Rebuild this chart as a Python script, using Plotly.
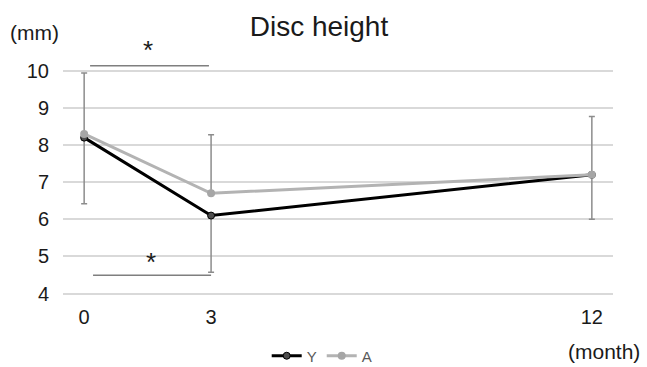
import plotly.graph_objects as go

# Data
months = [0, 3, 12]
tick_labels = ["0", "3", "12"]
y_mean = [8.2, 6.1, 7.2]
a_mean = [8.3, 6.7, 7.2]
y_err_minus = [1.78, 1.53, 1.2]
a_err_plus = [1.64, 1.58, 1.57]
y_ticks = [4, 5, 6, 7, 8, 9, 10]

# significance brackets: (x0, x1, y, star_x, star_y)
sig_brackets = [
    (0.14, 2.95, 10.14, 1.5, 10.56),
    (0.21, 3.0, 4.49, 1.57, 4.84),
]

FONT = "Liberation Sans, Arial, sans-serif"
TXT = "#1a1a1a"

fig = go.Figure()
fig.add_trace(go.Scatter(
    x=months, y=y_mean, name="Y", mode="lines+markers",
    line=dict(color="#000000", width=3),
    marker=dict(size=7, color="#4d4d4d", line=dict(color="#000000", width=1)),
    error_y=dict(type="data", symmetric=False, array=[0, 0, 0], arrayminus=y_err_minus,
                 color="#8c8c8c", thickness=1.5, width=3),
))
fig.add_trace(go.Scatter(
    x=months, y=a_mean, name="A", mode="lines+markers",
    line=dict(color="#b3b3b3", width=3),
    marker=dict(size=8, color="#a6a6a6"),
    error_y=dict(type="data", symmetric=False, array=a_err_plus, arrayminus=[0, 0, 0],
                 color="#8c8c8c", thickness=1.5, width=3),
))

for x0, x1, yv, sx, sy in sig_brackets:
    fig.add_shape(type="line", xref="x", yref="y", x0=x0, x1=x1, y0=yv, y1=yv,
                  line=dict(color="#7f7f7f", width=1.5))
    fig.add_annotation(x=sx, y=sy, xref="x", yref="y", text="*", showarrow=False,
                       xanchor="center", yanchor="middle",
                       font=dict(size=26, color=TXT, family=FONT))

fig.add_annotation(x=-0.051, y=1.04, xref="paper", yref="paper", text="(mm)",
                   showarrow=False, xanchor="center", yanchor="middle",
                   font=dict(size=21, color=TXT, family=FONT))
fig.add_annotation(x=0.9836, y=-0.186, xref="paper", yref="paper", text="(month)",
                   showarrow=False, xanchor="center", yanchor="middle",
                   font=dict(size=21, color=TXT, family=FONT))

fig.update_layout(
    width=647, height=367,
    margin=dict(l=63, r=34, t=42.7, b=60.3),
    paper_bgcolor="white", plot_bgcolor="white",
    font=dict(family=FONT, color=TXT),
    title=dict(text="Disc height", x=0.493, xref="container", xanchor="center",
               y=0.929, yref="container", yanchor="middle",
               font=dict(size=28, color=TXT, family=FONT)),
    showlegend=True,
    legend=dict(orientation="h", xref="container", yref="container", x=0.498, y=0.03,
                xanchor="center", yanchor="middle", font=dict(size=15, color="#595959"),
                itemwidth=30, tracegroupgap=0),
    xaxis=dict(range=[-0.5, 12.5], tickvals=months, ticktext=tick_labels,
               showgrid=False, zeroline=False, showline=False,
               tickfont=dict(size=20, color=TXT)),
    yaxis=dict(range=[3.75, 10.75], tickvals=y_ticks, showgrid=True, gridcolor="#d9d9d9",
               gridwidth=1.5, zeroline=False, showline=False,
               ticklabelstandoff=13, tickfont=dict(size=20, color=TXT)),
)

fig.write_html("out.html", config={"displayModeBar": False},
               post_script="document.body.style.margin='0';")
